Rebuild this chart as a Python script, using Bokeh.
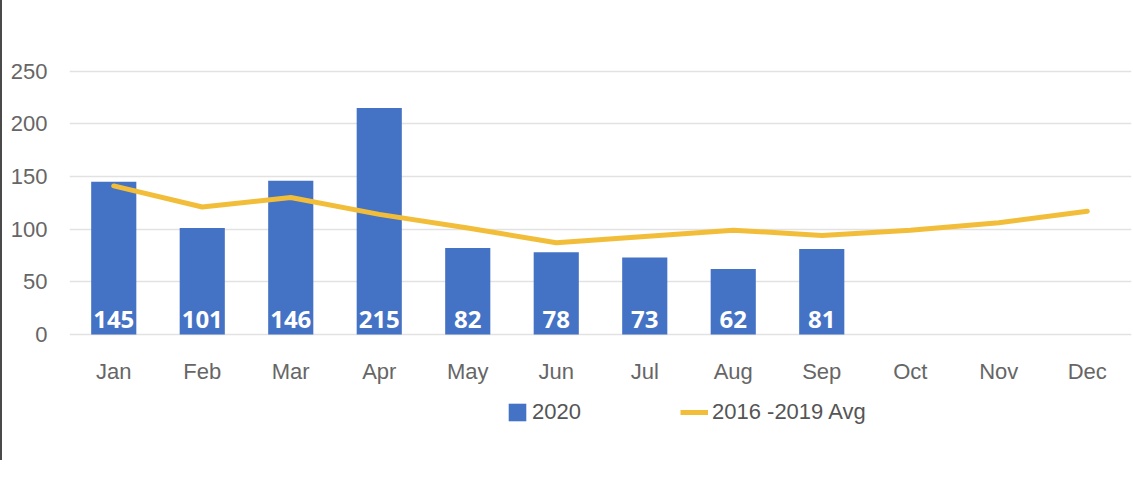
from bokeh.plotting import figure
from bokeh.models import ColumnDataSource, FixedTicker, Legend, LegendItem, Range1d, Spacer
from bokeh.layouts import row, column
from bokeh.core.properties import value
from bokeh.embed import file_html
from bokeh.resources import INLINE

# ---- data ----
months = ["Jan", "Feb", "Mar", "Apr", "May", "Jun", "Jul", "Aug", "Sep", "Oct", "Nov", "Dec"]
bar_months = ["Jan", "Feb", "Mar", "Apr", "May", "Jun", "Jul", "Aug", "Sep"]
values_2020 = [145, 101, 146, 215, 82, 78, 73, 62, 81]
avg_2016_2019 = [141, 121, 130, 114, 101, 87, 93, 99, 94, 99, 106, 117]
y_ticks = [0, 50, 100, 150, 200, 250]
series_names = ["2020", "2016 -2019 Avg"]

BLUE = "#4472C4"
GOLD = "#F2BE3A"
AXIS_FONT = "Liberation Sans"

bar_src = ColumnDataSource(dict(
    month=bar_months,
    value=values_2020,
    label=[str(v) for v in values_2020],
    base=[0] * len(bar_months),
))
line_src = ColumnDataSource(dict(month=months, avg=avg_2016_2019))

p = figure(
    x_range=months, y_range=Range1d(-2, 300),
    width=1131, height=390,
    output_backend="svg", toolbar_location=None,
    min_border_left=67, min_border_right=2, min_border_top=18, min_border_bottom=54,
)
p.x_range.range_padding = 0
p.outline_line_color = None
p.background_fill_color = "white"
p.border_fill_color = "white"

bars = p.vbar(x="month", top="value", width=0.51, source=bar_src,
              fill_color=BLUE, line_color=None)
p.text(x="month", y="base", text="label", source=bar_src,
       text_font=value("Open Sans"), text_font_style="bold", text_font_size="24px",
       text_color="white", text_align="center", text_baseline="alphabetic", y_offset=-15)

ln = p.line(x="month", y="avg", source=line_src, line_color=GOLD, line_width=5,
            line_join="round", line_cap="round")

# axes
p.yaxis.ticker = FixedTicker(ticks=y_ticks)
for ax in (p.xaxis, p.yaxis):
    ax.axis_line_color = None
    ax.major_tick_line_color = None
    ax.minor_tick_line_color = None
    ax.major_label_text_font = AXIS_FONT
    ax.major_label_text_font_size = "22px"
    ax.major_label_text_color = "#666666"
p.yaxis.major_label_standoff = 16
p.xaxis.major_label_standoff = 16
p.xgrid.grid_line_color = None
p.ygrid.grid_line_color = "#e2e2e2"
p.ygrid.grid_line_width = 1.5

# ---- legend strip (separate figure below the chart) ----
lg = figure(width=1131, height=70, x_range=Range1d(0, 1), y_range=Range1d(0, 1),
            output_backend="svg", toolbar_location=None,
            min_border_left=0, min_border_right=0, min_border_top=0, min_border_bottom=0)
lg.axis.visible = False
lg.grid.visible = False
lg.outline_line_color = None
# hidden renderers that only supply the legend swatches
sw_bar = lg.vbar(x="value", top="value", width=0.5, source=bar_src,
                 fill_color=BLUE, line_color=None, visible=False)
sw_line = lg.line(x="avg", y="avg", source=line_src, line_color=GOLD, line_width=5,
                  visible=False)

common = dict(padding=0, margin=0, border_line_color=None, background_fill_alpha=0,
              label_text_font=AXIS_FONT, label_text_font_size="22px",
              label_text_color="#555555")
leg1 = Legend(items=[LegendItem(label=series_names[0], renderers=[sw_bar])],
              location=(437, 35), glyph_width=22, glyph_height=22, label_standoff=4, **common)
leg2 = Legend(items=[LegendItem(label=series_names[1], renderers=[sw_line])],
              location=(611, 35), glyph_width=28, glyph_height=18, label_standoff=4, **common)
lg.add_layout(leg1)
lg.add_layout(leg2)

edge = Spacer(width=2, height=460, styles={"background-color": "#4a4a4a"})
layout = row(edge, column(p, lg))

open("out.html", "w").write(file_html(layout, INLINE))
